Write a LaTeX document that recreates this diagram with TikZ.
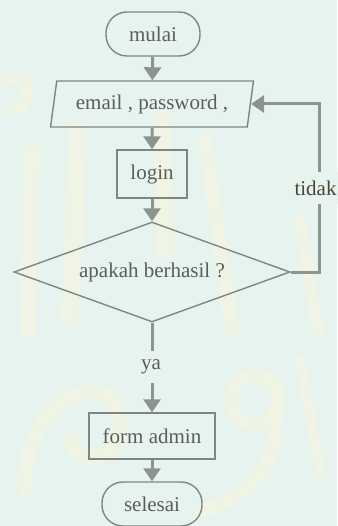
\documentclass[tikz,border=0pt]{standalone}
\usepackage{fontspec}
\setmainfont{Liberation Serif}
\usetikzlibrary{shapes.geometric,arrows.meta}
\definecolor{bg}{HTML}{E7F3EF}
\definecolor{mark}{HTML}{F7F6DE}
\definecolor{edge}{HTML}{7F8680}
\definecolor{flow}{HTML}{8B948E}
\definecolor{ink}{HTML}{5A5E5A}
\definecolor{labelink}{HTML}{4A4535}
\tikzset{
  every node/.style={font=\fontsize{21}{24}\selectfont, text=ink},
  terminal/.style={draw=edge, line width=1.4pt, rectangle, rounded corners=21pt,
    minimum width=94pt, minimum height=44pt, inner sep=0pt},
  io/.style={draw=edge, line width=1.4pt, trapezium, trapezium left angle=75.4,
    trapezium right angle=104.6, trapezium stretches=true,
    minimum width=203pt, minimum height=46pt, inner sep=0pt},
  process/.style={draw=edge, line width=1.4pt, rectangle, inner sep=0pt},
  decision/.style={draw=edge, line width=1.4pt, diamond, aspect=2.76,
    minimum width=276pt, minimum height=100pt, inner sep=0pt},
  flowline/.style={draw=flow, line width=3pt},
  flowarrow/.style={flowline, -{Triangle[width=17pt,length=13pt]}},
  lbl/.style={fill=bg, inner xsep=1pt, inner ysep=9pt},
  brush/.style={draw=mark, line cap=round, line join=round, opacity=0.6}
}
\begin{document}
\begin{tikzpicture}[x=1pt,y=-1pt]
  \fill[bg] (0,0) rectangle (337,526);
  \useasboundingbox (0,0) rectangle (337,526);

  % pale calligraphic backdrop
  \draw[brush, line width=16pt] (32,150) -- (28,330);
  \draw[brush, line width=12pt] (8,80) .. controls (30,70) and (35,100) .. (15,112);
  \draw[brush, line width=18pt] (78,130) -- (70,320);
  \draw[brush, line width=18pt] (162,120) -- (166,250);
  \draw[brush, line width=14pt] (205,140) -- (232,330);
  \draw[brush, line width=12pt] (300,220) -- (318,330);
  \draw[brush, line width=14pt] (25,490) .. controls (20,400) and (110,360) .. (120,420)
    .. controls (125,460) and (80,470) .. (70,440);
  \draw[brush, line width=14pt] (255,400) circle (24pt);
  \draw[brush, line width=14pt] (275,415) .. controls (280,470) and (240,500) .. (205,510);
  \draw[brush, line width=10pt] (300,360) -- (320,470);

  % flowchart blocks
  \node[terminal] (start) at (153,34) {mulai};
  \node[io] (input) at (152,104) {email , password ,};
  \node[process, minimum width=70pt, minimum height=48pt] (login) at (152,174) {login};
  \node[decision] (check) at (152,272) {apakah berhasil ?};
  \node[process, minimum width=126pt, minimum height=46pt] (form) at (152,436) {form admin};
  \node[terminal, minimum width=100pt] (stop) at (152,504) {selesai};

  % main flow
  \draw[flowarrow] (start) -- (input);
  \draw[flowarrow] (input) -- (login);
  \draw[flowarrow] (login) -- (check);
  \draw[flowarrow] (check.south) -- (form.north);
  \draw[flowarrow] (form) -- (stop);

  % retry loop
  \coordinate (loop) at (319,0);
  \draw[flowarrow] (check.east) -- (loop |- check.east) -- (loop |- input.east) -- (input.east);

  % branch labels
  \node[lbl, text=labelink] (no) at (315.5,188) {tidak};
  \node[lbl] (yes) at (151,367) {ya};
\end{tikzpicture}
\end{document}
